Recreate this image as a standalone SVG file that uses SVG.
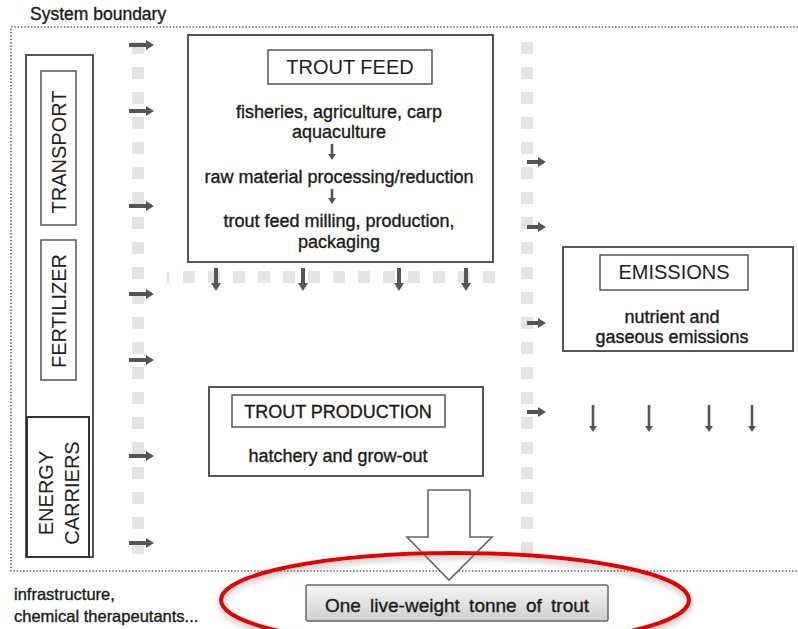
<svg xmlns="http://www.w3.org/2000/svg" width="798" height="629" viewBox="0 0 798 629">
  <defs>
    <style>
      .t { font-family: "Liberation Sans", Arial, sans-serif; fill: #1a1a1a; stroke: #1a1a1a; stroke-width: 0.35; }
      .h { font-family: "Liberation Sans", Arial, sans-serif; fill: #222; }
      .box { fill: #fff; stroke: #555; stroke-width: 2; }
      .lbl { fill: #fff; stroke: #555; stroke-width: 1.5; }
      .dots { fill: none; stroke: #666; stroke-width: 1.6; stroke-dasharray: 1.5 1.8; }
      .band { fill: none; stroke: #e4e4e4; stroke-width: 12; stroke-dasharray: 12 13; }
      .arr { stroke: #555; stroke-width: 4; fill: none; marker-end: url(#ah); }
      .arr-s { stroke: #555; stroke-width: 2.6; fill: none; marker-end: url(#ahs); }
    </style>
    <marker id="ah" markerUnits="userSpaceOnUse" viewBox="0 0 8 10" markerWidth="8" markerHeight="10" refX="1" refY="5" orient="auto">
      <path d="M0,0 L8,5 L0,10 z" fill="#555"/>
    </marker>
    <marker id="ahs" markerUnits="userSpaceOnUse" viewBox="0 0 6 8" markerWidth="6" markerHeight="8" refX="1" refY="4" orient="auto">
      <path d="M0,0 L6,4 L0,8 z" fill="#555"/>
    </marker>
    <linearGradient id="btn" x1="0" y1="0" x2="0" y2="1">
      <stop offset="0" stop-color="#f6f6f6"/>
      <stop offset="1" stop-color="#cfcfcf"/>
    </linearGradient>
    <filter id="halo" x="-10%" y="-30%" width="120%" height="160%">
      <feDropShadow dx="0" dy="3" stdDeviation="3" flood-color="#777" flood-opacity="0.55"/>
    </filter>
  </defs>

  <rect width="798" height="629" fill="#fff"/>

  <!-- system boundary -->
  <g id="boundary">
    <text class="t" x="30" y="20" font-size="17.5">System boundary</text>
    <path class="dots" d="M798,27 H11 V571 H798"/>
  </g>

  <!-- light grey flow bands -->
  <g id="bands">
    <line class="band" x1="138" y1="42" x2="138" y2="558"/>
    <line class="band" x1="527" y1="42" x2="527" y2="566"/>
    <line class="band" x1="183" y1="277" x2="500" y2="277"/>
    <line x1="168" y1="272" x2="168" y2="283" stroke="#e4e4e4" stroke-width="3"/>
  </g>

  <!-- input categories -->
  <g id="inputs">
    <rect class="box" x="26" y="55" width="67" height="502"/>
    <g id="transport">
      <rect class="lbl" x="41" y="71" width="35" height="154"/>
      <text class="h" font-size="20" text-anchor="middle" transform="translate(66,152) rotate(-90)">TRANSPORT</text>
    </g>
    <g id="fertilizer">
      <rect class="lbl" x="41" y="240" width="35" height="140"/>
      <text class="h" font-size="20" text-anchor="middle" transform="translate(66,311) rotate(-90)">FERTILIZER</text>
    </g>
    <g id="energy">
      <rect x="27" y="417" width="62" height="140" fill="#fff" stroke="#333" stroke-width="2"/>
      <text class="h" font-size="20" text-anchor="middle" transform="translate(53,493) rotate(-90)">ENERGY</text>
      <text class="h" font-size="20" text-anchor="middle" transform="translate(79,493) rotate(-90)">CARRIERS</text>
    </g>
  </g>

  <!-- trout feed -->
  <g id="trout-feed">
    <rect class="box" x="188" y="35" width="305" height="227"/>
    <rect class="lbl" x="268" y="50" width="164" height="34"/>
    <text class="h" x="350" y="74" font-size="20" text-anchor="middle">TROUT FEED</text>
    <g font-size="18" text-anchor="middle">
      <text class="t" x="339" y="118">fisheries, agriculture, carp</text>
      <text class="t" x="339" y="138">aquaculture</text>
      <text class="t" x="339" y="183">raw material processing/reduction</text>
      <text class="t" x="339" y="227">trout feed milling, production,</text>
      <text class="t" x="339" y="248">packaging</text>
    </g>
    <line class="arr-s" x1="332" y1="144" x2="332" y2="155"/>
    <line class="arr-s" x1="332" y1="189" x2="332" y2="199"/>
  </g>

  <!-- emissions -->
  <g id="emissions">
    <rect class="box" x="563" y="247" width="230" height="104"/>
    <rect class="lbl" x="600" y="255" width="148" height="35"/>
    <text class="h" x="674" y="279" font-size="20" text-anchor="middle">EMISSIONS</text>
    <text class="t" x="672" y="323" font-size="18" text-anchor="middle">nutrient and</text>
    <text class="t" x="672" y="343" font-size="18" text-anchor="middle">gaseous emissions</text>
  </g>

  <!-- trout production -->
  <g id="trout-production">
    <rect class="box" x="209" y="387" width="274" height="89"/>
    <rect class="lbl" x="232" y="395" width="213" height="32"/>
    <text class="t" x="338" y="418" font-size="18" text-anchor="middle">TROUT PRODUCTION</text>
    <text class="t" x="338" y="462" font-size="18" text-anchor="middle">hatchery and grow-out</text>
  </g>

  <!-- functional unit -->
  <g id="output">
    <rect x="306" y="585" width="302" height="36" rx="2" fill="url(#btn)" stroke="#666" stroke-width="1.5"/>
    <text class="t" x="457" y="612" font-size="19" word-spacing="4" text-anchor="middle">One live-weight tonne of trout</text>
  </g>

  <!-- other inputs -->
  <g id="other-inputs">
    <text class="t" x="14" y="600" font-size="16.5">infrastructure,</text>
    <text class="t" x="14" y="622" font-size="16.5">chemical therapeutants...</text>
  </g>

  <!-- connectors -->
  <g id="connectors">
    <line class="arr" x1="129" y1="45" x2="147" y2="45"/>
    <line class="arr" x1="129" y1="111" x2="147" y2="111"/>
    <line class="arr" x1="129" y1="206" x2="147" y2="206"/>
    <line class="arr" x1="129" y1="294" x2="147" y2="294"/>
    <line class="arr" x1="129" y1="360" x2="147" y2="360"/>
    <line class="arr" x1="129" y1="456" x2="147" y2="456"/>
    <line class="arr" x1="129" y1="543" x2="147" y2="543"/>

    <line class="arr" x1="216" y1="268" x2="216" y2="284"/>
    <line class="arr" x1="303" y1="268" x2="303" y2="284"/>
    <line class="arr" x1="399" y1="268" x2="399" y2="284"/>
    <line class="arr" x1="466" y1="268" x2="466" y2="284"/>

    <line class="arr" x1="527" y1="162" x2="539" y2="162"/>
    <line class="arr" x1="527" y1="227" x2="539" y2="227"/>
    <line class="arr" x1="527" y1="323" x2="539" y2="323"/>
    <line class="arr" x1="527" y1="412" x2="539" y2="412"/>

    <line class="arr-s" x1="593" y1="405" x2="593" y2="427"/>
    <line class="arr-s" x1="649" y1="405" x2="649" y2="427"/>
    <line class="arr-s" x1="709" y1="405" x2="709" y2="427"/>
    <line class="arr-s" x1="752" y1="405" x2="752" y2="427"/>

    <path d="M428,490 H470 V537 H492 L449,580 L407,537 H428 Z" fill="#fff" stroke="#666" stroke-width="1.6"/>
  </g>

  <!-- highlight -->
  <ellipse cx="455" cy="600" rx="234" ry="47" fill="none" stroke="#e60000" stroke-width="4" filter="url(#halo)"/>
</svg>
